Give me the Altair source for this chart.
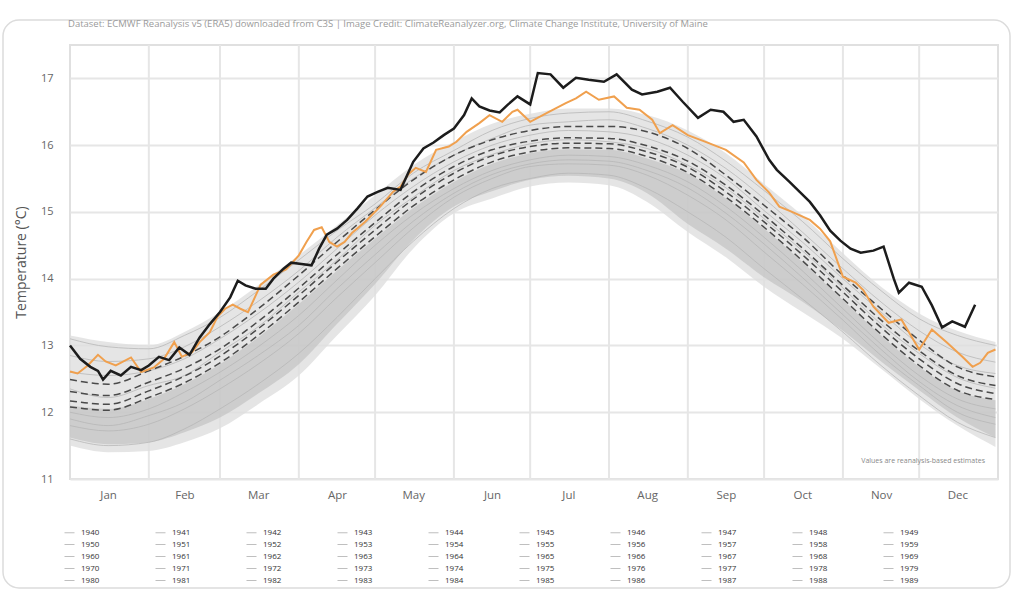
import altair as alt
import pandas as pd

# ---------------- data ----------------
months = ["Jan", "Feb", "Mar", "Apr", "May", "Jun", "Jul", "Aug", "Sep", "Oct", "Nov", "Dec"]
month_mid_days = [15, 45, 74, 105, 135, 166, 196, 227, 258, 288, 319, 349]
month_start_days = [31, 59, 90, 120, 151, 181, 212, 243, 273, 304, 334]
y_ticks = [11, 12, 13, 14, 15, 16, 17]
legend_years = [str(y) for y in range(1940, 1990)]

title_text = ("Dataset: ECMWF Reanalysis v5 (ERA5) downloaded from C3S | Image Credit: "
              "ClimateReanalyzer.org, Climate Change Institute, University of Maine")
note_text = "Values are reanalysis-based estimates"

# black (current year)
black_day = [0, 4, 8, 11, 13, 16, 20, 24, 28, 31, 35, 39, 43, 47, 51, 55, 59, 63, 66, 69, 73, 77, 80, 84,
             87, 91, 95, 98, 101, 105, 109, 113, 117, 121, 125, 130, 135, 139, 143, 147, 151, 155, 158,
             161, 165, 169, 172, 176, 181, 184, 189, 194, 199, 204, 210, 215, 221, 225, 231, 236, 241,
             247, 252, 257, 261, 265, 270, 275, 278, 283, 287, 291, 295, 299, 303, 307, 311, 316, 320,
             324, 326, 330, 335, 339, 343, 347, 352, 356]
black_temp = [13.00, 12.80, 12.68, 12.62, 12.49, 12.62, 12.55, 12.68, 12.63, 12.70, 12.83, 12.78, 12.97,
              12.86, 13.12, 13.32, 13.50, 13.72, 13.97, 13.90, 13.85, 13.85, 14.00, 14.15, 14.24, 14.22,
              14.20, 14.45, 14.66, 14.75, 14.88, 15.05, 15.23, 15.30, 15.36, 15.33, 15.75, 15.95, 16.04,
              16.15, 16.25, 16.45, 16.70, 16.58, 16.52, 16.49, 16.60, 16.73, 16.61, 17.08, 17.06, 16.86,
              17.01, 16.98, 16.95, 17.06, 16.83, 16.76, 16.80, 16.86, 16.65, 16.41, 16.53, 16.50, 16.35,
              16.38, 16.13, 15.78, 15.63, 15.45, 15.30, 15.15, 14.95, 14.72, 14.57, 14.45, 14.39, 14.42,
              14.48, 14.00, 13.79, 13.94, 13.88, 13.60, 13.27, 13.36, 13.28, 13.61]

# orange (previous year)
orange_day = [0, 3, 7, 11, 14, 18, 24, 28, 33, 37, 41, 44, 48, 51, 55, 58, 61, 64, 67, 70, 75, 80, 85,
              90, 93, 96, 99, 102, 105, 108, 111, 116, 122, 127, 130, 133, 136, 140, 144, 149, 152, 156,
              161, 165, 170, 174, 176, 181, 188, 195, 199, 203, 208, 214, 219, 224, 229, 232, 237, 243,
              250, 258, 265, 270, 275, 279, 284, 291, 295, 299, 304, 309, 312, 316, 322, 327, 334, 339,
              345, 351, 355, 358, 361, 364]
orange_temp = [12.61, 12.58, 12.70, 12.86, 12.76, 12.70, 12.82, 12.60, 12.67, 12.80, 13.05, 12.83, 12.90,
               13.05, 13.20, 13.43, 13.55, 13.61, 13.55, 13.50, 13.91, 14.06, 14.14, 14.35, 14.55, 14.73,
               14.77, 14.55, 14.48, 14.55, 14.69, 14.85, 15.08, 15.30, 15.38, 15.56, 15.66, 15.60, 15.93,
               15.98, 16.05, 16.20, 16.33, 16.45, 16.35, 16.50, 16.53, 16.35, 16.49, 16.63, 16.70, 16.80,
               16.68, 16.73, 16.56, 16.53, 16.38, 16.18, 16.30, 16.15, 16.05, 15.93, 15.74, 15.48, 15.29,
               15.08, 15.00, 14.88, 14.75, 14.56, 14.03, 13.94, 13.83, 13.58, 13.34, 13.39, 12.94, 13.24,
               13.04, 12.83, 12.68, 12.74, 12.89, 12.94]

# common sampling days for climatologies / envelopes
sample_days = [0, 15, 31, 45, 59, 74, 90, 105, 120, 135, 151, 166, 181, 196, 212, 227, 243, 258, 273,
               288, 304, 319, 334, 349, 364]

mean_a = [12.49, 12.42, 12.62, 12.84, 13.13, 13.55, 14.05, 14.55, 15.03, 15.48, 15.85, 16.08, 16.22,
          16.28, 16.28, 16.20, 15.95, 15.55, 15.10, 14.63, 14.05, 13.55, 13.08, 12.68, 12.53]
mean_b = [12.31, 12.25, 12.45, 12.66, 12.95, 13.36, 13.86, 14.36, 14.84, 15.30, 15.68, 15.93, 16.06,
          16.11, 16.10, 15.99, 15.76, 15.40, 14.95, 14.46, 13.90, 13.38, 12.92, 12.55, 12.40]
mean_c = [12.17, 12.12, 12.32, 12.54, 12.84, 13.25, 13.75, 14.25, 14.73, 15.19, 15.58, 15.84, 15.98,
          16.03, 16.02, 15.90, 15.67, 15.30, 14.85, 14.36, 13.80, 13.27, 12.80, 12.43, 12.28]
mean_d = [12.08, 12.03, 12.22, 12.44, 12.74, 13.15, 13.65, 14.15, 14.63, 15.09, 15.48, 15.75, 15.90,
          15.96, 15.95, 15.83, 15.59, 15.22, 14.77, 14.27, 13.70, 13.17, 12.70, 12.33, 12.19]

# envelope of all earlier years (thin grey lines)
gray_low = [11.50, 11.40, 11.42, 11.55, 11.76, 12.12, 12.55, 13.15, 13.75, 14.45, 14.98, 15.20, 15.38,
            15.44, 15.40, 15.15, 14.70, 14.32, 13.88, 13.50, 13.10, 12.65, 12.20, 11.80, 11.48]
gray_high = [13.15, 13.05, 13.00, 13.20, 13.50, 13.90, 14.35, 14.80, 15.25, 15.70, 16.05, 16.32, 16.47,
             16.55, 16.55, 16.45, 16.22, 15.88, 15.42, 14.95, 14.38, 13.88, 13.48, 13.22, 13.05]
core_low = [11.62, 11.52, 11.55, 11.70, 11.92, 12.28, 12.72, 13.32, 13.92, 14.58, 15.08, 15.31, 15.48,
            15.54, 15.50, 15.28, 14.82, 14.45, 14.02, 13.66, 13.22, 12.76, 12.33, 11.92, 11.62]
core_high = [12.10, 12.05, 12.20, 12.42, 12.72, 13.12, 13.62, 14.12, 14.60, 15.06, 15.45, 15.72, 15.88,
             15.94, 15.93, 15.80, 15.57, 15.20, 14.75, 14.25, 13.68, 13.15, 12.68, 12.32, 12.18]

gray_lines = {
    "1984": [13.10, 12.98, 12.95, 13.15, 13.42, 13.82, 14.28, 14.72, 15.12, 15.58, 15.92, 16.22, 16.40,
             16.48, 16.50, 16.36, 16.12, 15.76, 15.32, 14.86, 14.30, 13.82, 13.40, 13.15, 13.00],
    "1987": [12.85, 12.76, 12.80, 12.98, 13.28, 13.66, 14.12, 14.62, 15.06, 15.50, 15.85, 16.10, 16.30,
             16.35, 16.38, 16.25, 16.00, 15.65, 15.20, 14.70, 14.15, 13.65, 13.22, 12.90, 12.75],
    "1989": [12.60, 12.55, 12.62, 12.80, 13.10, 13.48, 13.95, 14.45, 14.95, 15.38, 15.75, 16.00, 16.15,
             16.22, 16.20, 16.10, 15.85, 15.50, 15.02, 14.55, 14.00, 13.50, 13.02, 12.70, 12.58],
    "1975": [12.35, 12.22, 12.40, 12.55, 12.90, 13.28, 13.80, 14.28, 14.80, 15.22, 15.62, 15.86, 16.02,
             16.08, 16.05, 15.95, 15.70, 15.36, 14.90, 14.42, 13.86, 13.32, 12.88, 12.52, 12.36],
    "1960": [12.00, 11.92, 12.05, 12.30, 12.60, 12.98, 13.45, 13.98, 14.50, 14.96, 15.35, 15.62, 15.78,
             15.85, 15.83, 15.70, 15.45, 15.08, 14.62, 14.12, 13.55, 13.02, 12.55, 12.20, 12.05],
    "1955": [11.90, 11.80, 11.95, 12.15, 12.48, 12.85, 13.30, 13.85, 14.36, 14.86, 15.28, 15.56, 15.72,
             15.78, 15.76, 15.62, 15.36, 14.98, 14.52, 14.02, 13.46, 12.94, 12.46, 12.10, 11.92],
    "1950": [11.80, 11.72, 11.82, 12.05, 12.35, 12.72, 13.18, 13.72, 14.24, 14.76, 15.22, 15.50, 15.68,
             15.72, 15.70, 15.55, 15.25, 14.88, 14.40, 13.92, 13.38, 12.85, 12.40, 12.00, 11.82],
    "1940": [11.60, 11.50, 11.55, 11.75, 12.05, 12.42, 12.88, 13.42, 14.00, 14.56, 15.05, 15.35, 15.50,
             15.58, 15.55, 15.35, 15.00, 14.62, 14.15, 13.70, 13.20, 12.70, 12.25, 11.85, 11.62],
}

# ---------------- frames ----------------
black_df = pd.DataFrame({"day": black_day, "temp": black_temp})
orange_df = pd.DataFrame({"day": orange_day, "temp": orange_temp})

means_rows = []
for name, vals in [("a", mean_a), ("b", mean_b), ("c", mean_c), ("d", mean_d)]:
    for d, v in zip(sample_days, vals):
        means_rows.append({"day": d, "temp": v, "series": name})
means_df = pd.DataFrame(means_rows)

env_df = pd.DataFrame({"day": sample_days, "lo": gray_low, "hi": gray_high,
                       "clo": core_low, "chi": core_high})

gl_rows = []
for yr, vals in gray_lines.items():
    for d, v in zip(sample_days, vals):
        gl_rows.append({"day": d, "temp": v, "year": yr})
gl_df = pd.DataFrame(gl_rows)

grid_df = pd.DataFrame({"day": month_start_days})
one = pd.DataFrame({"t": [title_text], "n": [note_text]})

# ---------------- scales / axes ----------------
label_expr = "[" + ",".join("'%s'" % m for m in months) + "][indexof([" + \
    ",".join(str(d) for d in month_mid_days) + "], datum.value)]"

yscale = alt.Scale(domain=[11, 17.5], nice=False, zero=False)
X = alt.X("day:Q", scale=alt.Scale(domain=[0, 365], nice=False, zero=False),
          axis=alt.Axis(values=month_mid_days, labelExpr=label_expr, grid=False, ticks=False,
                        domain=False, labelColor="#666", labelFontSize=11.5, labelPadding=10,
                        title=None))
Y = alt.Y("temp:Q", scale=yscale,
          axis=alt.Axis(values=y_ticks, format="d", grid=True, gridColor="#e6e6e6", gridWidth=2,
                        ticks=False, domain=False, labelColor="#666", labelFontSize=11,
                        labelPadding=17, title="Temperature (°C)", titleFontSize=14,
                        titleFontWeight="normal", titleColor="#555", titlePadding=12))

# ---------------- layers ----------------
frame = alt.Chart(one).mark_rect(filled=False, stroke="#dcdcdc", strokeWidth=1.5,
                                 cornerRadius=16).encode(
    x=alt.value(-67), x2=alt.value(940), y=alt.value(-25), y2=alt.value(543))

vgrid = alt.Chart(grid_df).mark_rule(color="#e6e6e6", strokeWidth=2).encode(x=X)

outer = alt.Chart(env_df).mark_area(color="#dedede", opacity=0.8, interpolate="monotone").encode(
    x=X, y=alt.Y("lo:Q", scale=yscale), y2="hi:Q")
core = alt.Chart(env_df).mark_area(color="#c0c0c0", opacity=0.65, interpolate="monotone").encode(
    x=X, y=alt.Y("clo:Q", scale=yscale), y2="chi:Q")

glines = alt.Chart(gl_df).mark_line(strokeWidth=0.9, opacity=0.85, interpolate="monotone").encode(
    x=X, y=Y,
    color=alt.Color("year:N", title=None,
                    scale=alt.Scale(domain=legend_years, range=["#b5b5b5"]),
                    legend=alt.Legend(orient="none", legendX=-6, legendY=482, columns=10,
                                      direction="horizontal",
                                      symbolType="stroke", symbolSize=100, symbolStrokeWidth=1,
                                      labelFontSize=8, labelColor="#333", labelOffset=6,
                                      columnPadding=53, rowPadding=2, symbolLimit=60)))

means = alt.Chart(means_df).mark_line(color="#4a4a4a", strokeWidth=1.5, strokeDash=[7, 4],
                                      interpolate="monotone").encode(x=X, y=Y, detail="series:N")

orange = alt.Chart(orange_df).mark_line(color="#f0a04e", strokeWidth=2).encode(x=X, y=Y)
black = alt.Chart(black_df).mark_line(color="#1c1c1c", strokeWidth=2.5).encode(x=X, y=Y)

title_mark = alt.Chart(one).mark_text(align="left", baseline="middle", fontSize=9.5,
                                      color="#9a9a9a").encode(
    x=alt.value(-2), y=alt.value(-21), text="t:N")
note_mark = alt.Chart(one).mark_text(align="right", baseline="middle", fontSize=7,
                                     color="#888").encode(
    x=alt.value(915), y=alt.value(416), text="n:N")

chart = alt.layer(frame, vgrid, outer, core, glines, means, orange, black, title_mark, note_mark).properties(
    width=928, height=434,
    padding={"left": 70, "top": 45, "right": 14, "bottom": 116},
    autosize=alt.AutoSizeParams(type="none"),
).configure(font="Open Sans").configure_view(stroke="#e0e0e0", strokeWidth=2)

chart.save("out.html", embed_options={"renderer": "svg", "actions": False})
